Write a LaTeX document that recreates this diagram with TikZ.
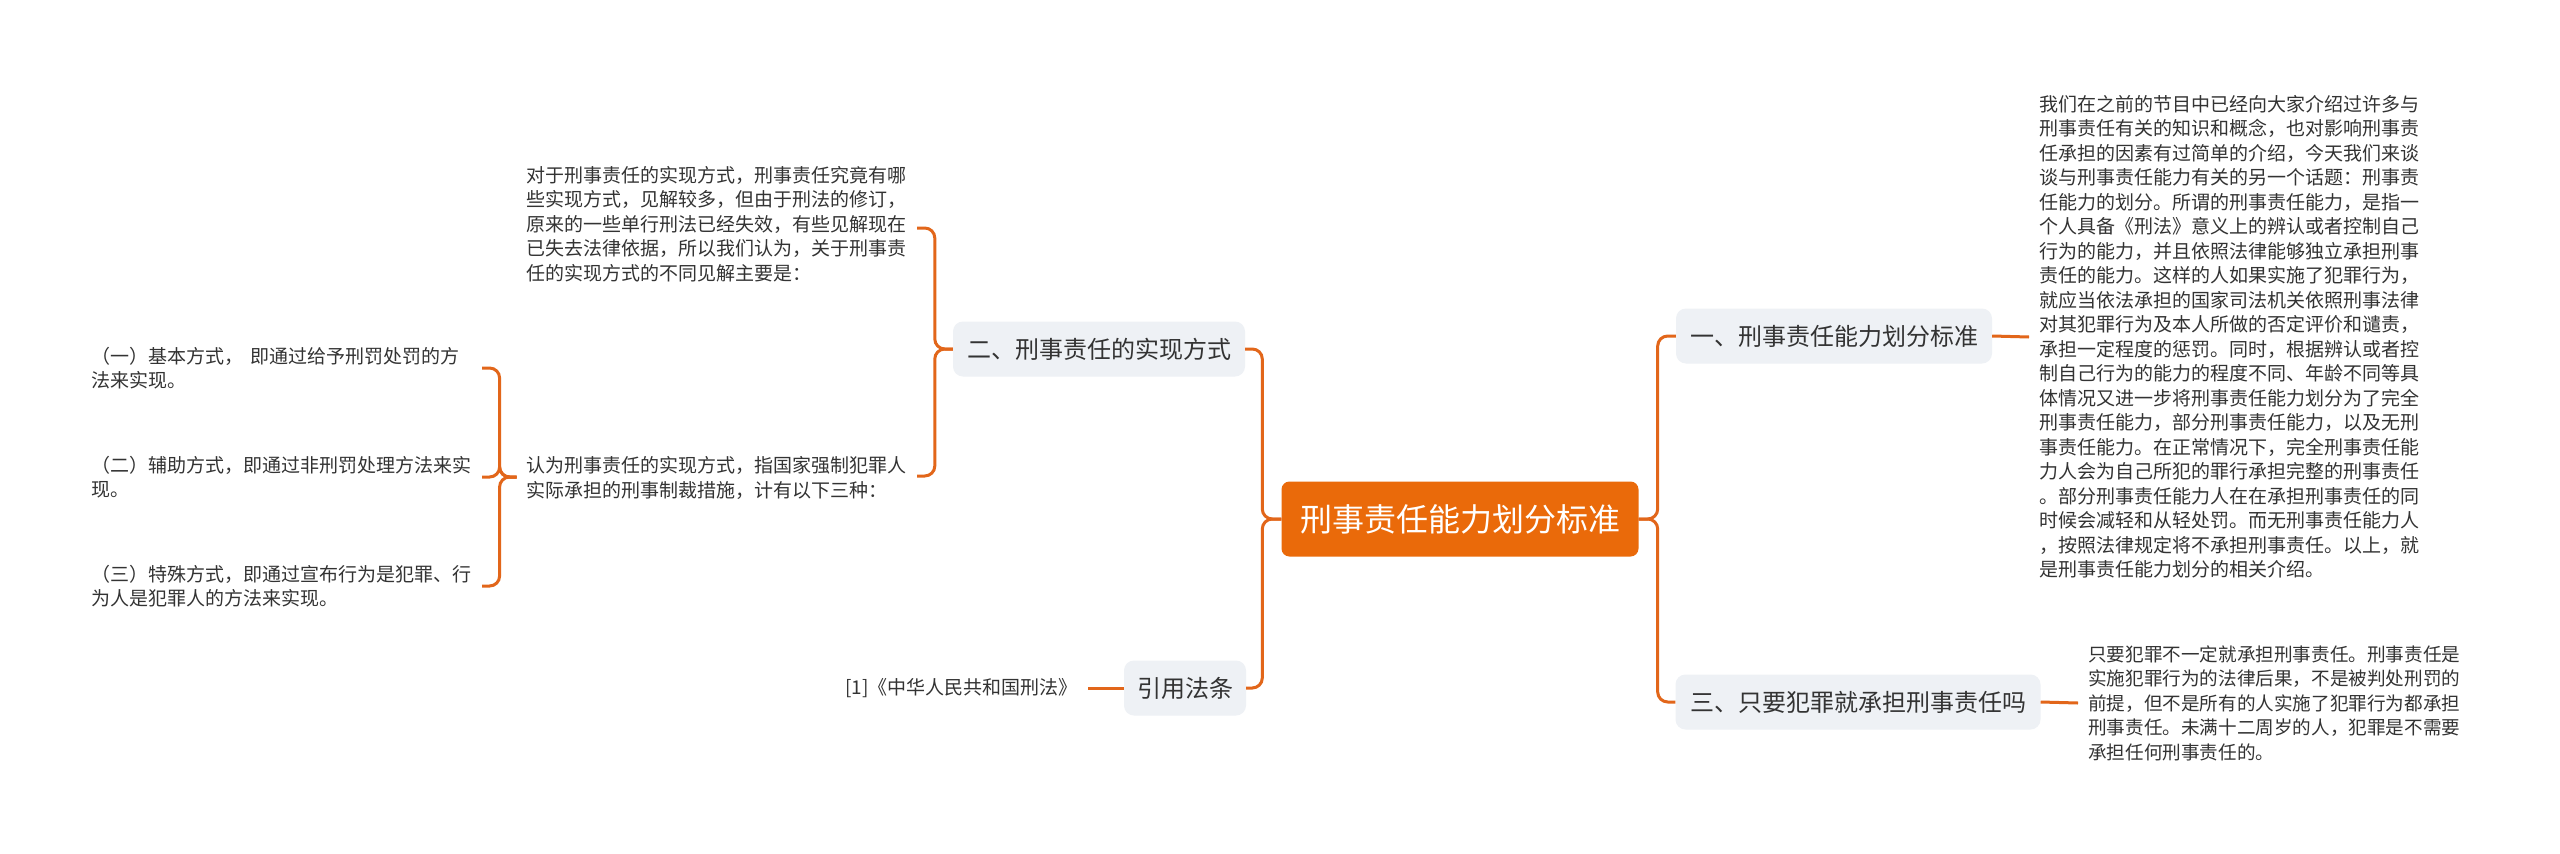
\documentclass[tikz,border=0pt]{standalone}
\usepackage{fontspec}
\setmainfont{Noto Sans CJK SC}
\usepackage{tikz}
\usetikzlibrary{calc}

\definecolor{rootorange}{HTML}{EA6A0A}
\definecolor{linkorange}{HTML}{E2661A}
\definecolor{boxgrey}{HTML}{EEF1F5}
\definecolor{textgrey}{HTML}{333333}

\tikzset{
  rootbox/.style={fill=rootorange,text=white,rounded corners=8pt,minimum width=357pt,minimum height=75pt,
    font=\fontsize{32pt}{36pt}\selectfont},
  topicbox/.style={fill=boxgrey,text=textgrey,rounded corners=10pt,minimum height=55pt,
    font=\fontsize{24pt}{28pt}\selectfont},
  plaintext/.style={text=textgrey,inner sep=10pt,font=\fontsize{19pt}{24.5pt}\selectfont},
  leaftext/.style={plaintext,align=left,text width=380pt},
  link/.style={draw=linkorange,line width=3pt,rounded corners=10pt}
}

\begin{document}
\begin{tikzpicture}[x={(1pt,0pt)},y={(0pt,-1pt)}]
\useasboundingbox[fill=white] (0,0) rectangle (2560,854);

% centre
\node[rootbox] (root) at (1460,519) {刑事责任能力划分标准};

% right side
\node[topicbox,minimum width=316pt] (one) at (1834,336) {一、刑事责任能力划分标准};
\node[topicbox,minimum width=365pt] (three) at (1858,702) {三、只要犯罪就承担刑事责任吗};
\node[leaftext,anchor=west] (onetext) at (2029,337) {我们在之前的节目中已经向大家介绍过许多与\\
刑事责任有关的知识和概念，也对影响刑事责\\
任承担的因素有过简单的介绍，今天我们来谈\\
谈与刑事责任能力有关的另一个话题：刑事责\\
任能力的划分。所谓的刑事责任能力，是指一\\
个人具备《刑法》意义上的辨认或者控制自己\\
行为的能力，并且依照法律能够独立承担刑事\\
责任的能力。这样的人如果实施了犯罪行为，\\
就应当依法承担的国家司法机关依照刑事法律\\
对其犯罪行为及本人所做的否定评价和谴责，\\
承担一定程度的惩罚。同时，根据辨认或者控\\
制自己行为的能力的程度不同、年龄不同等具\\
体情况又进一步将刑事责任能力划分为了完全\\
刑事责任能力，部分刑事责任能力，以及无刑\\
事责任能力。在正常情况下，完全刑事责任能\\
力人会为自己所犯的罪行承担完整的刑事责任\\
。部分刑事责任能力人在在承担刑事责任的同\\
时候会减轻和从轻处罚。而无刑事责任能力人\\
，按照法律规定将不承担刑事责任。以上，就\\
是刑事责任能力划分的相关介绍。};
\node[leaftext,anchor=west,font=\fontsize{18.6pt}{24.5pt}\selectfont] (threetext) at (2078,703) {只要犯罪不一定就承担刑事责任。刑事责任是\\
实施犯罪行为的法律后果，不是被判处刑罚的\\
前提，但不是所有的人实施了犯罪行为都承担\\
刑事责任。未满十二周岁的人，犯罪是不需要\\
承担任何刑事责任的。};

% left side
\node[topicbox,minimum width=292pt] (two) at (1099,349) {二、刑事责任的实现方式};
\node[topicbox,minimum width=122pt] (cite) at (1185,688) {引用法条};
\node[leaftext,anchor=east] (twoa) at (917,224) {对于刑事责任的实现方式，刑事责任究竟有哪\\
些实现方式，见解较多，但由于刑法的修订，\\
原来的一些单行刑法已经失效，有些见解现在\\
已失去法律依据，所以我们认为，关于刑事责\\
任的实现方式的不同见解主要是：};
\node[leaftext,anchor=east] (twob) at (917,478) {认为刑事责任的实现方式，指国家强制犯罪人\\
实际承担的刑事制裁措施，计有以下三种：};
\node[leaftext,anchor=east] (waya) at (482,368) {（一）基本方式， 即通过给予刑罚处罚的方\\
法来实现。};
\node[leaftext,anchor=east] (wayb) at (482,477) {（二）辅助方式，即通过非刑罚处理方法来实\\
现。};
\node[leaftext,anchor=east] (wayc) at (482,586) {（三）特殊方式，即通过宣布行为是犯罪、行\\
为人是犯罪人的方法来实现。};
\node[plaintext,anchor=east] (law) at (1088,688) {[1]《中华人民共和国刑法》};

% connectors
\draw[link] (root.east) -- ++(19,0) |- (one.west);
\draw[link] (root.east) -- ++(19,0) |- (three.west);
\draw[link] (root.west) -- ++(-19,0) |- (two.east);
\draw[link] (root.west) -- ++(-19,0) |- (cite.east);
\draw[link] (one.east) -- (onetext.west);
\draw[link] (three.east) -- (threetext.west);
\draw[link] (two.west) -- ++(-18,0) |- ($(twoa.east)+(0,4)$);
\draw[link] (two.west) -- ++(-18,0) |- ($(twob.east)+(0,-2)$);
\draw[link] (cite.west) -- (law.east);
\draw[link] ($(twob.west)+(0,-1)$) -- ++(-17,0) |- (waya.east);
\draw[link] ($(twob.west)+(0,-1)$) -- ++(-17,0) |- (wayb.east);
\draw[link] ($(twob.west)+(0,-1)$) -- ++(-17,0) |- (wayc.east);
\end{tikzpicture}
\end{document}
